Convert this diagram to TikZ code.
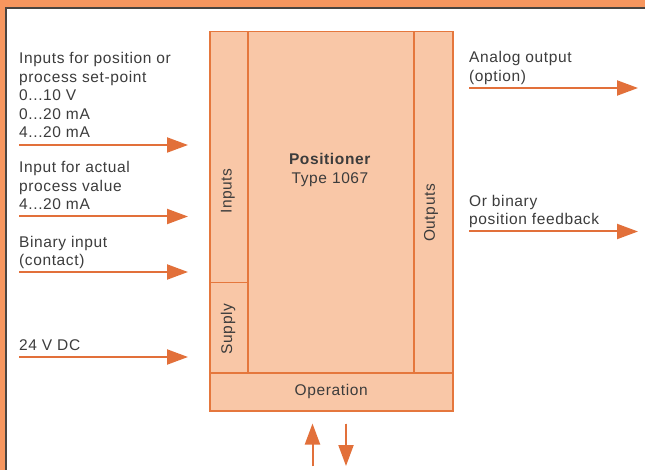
\documentclass[tikz,border=0pt]{standalone}
\usepackage{fontspec}
\setmainfont[LetterSpace=4]{Liberation Sans}
\usepackage{tikz}
\usetikzlibrary{arrows.meta,positioning}
\definecolor{posframe}{HTML}{F7965E}
\definecolor{posshadow}{HTML}{4A4440}
\definecolor{posarrow}{HTML}{E2703A}
\definecolor{posfill}{HTML}{F9C7A7}
\definecolor{posdraw}{HTML}{E5773D}
\definecolor{postext}{HTML}{3C3C3C}
\tikzset{
  part/.style={draw=posdraw,fill=posfill,line width=1.5pt,inner sep=0pt,anchor=north west,text=postext},
  lbl/.style={align=left,anchor=north west,inner sep=0pt,text=postext},
  ar/.style={-{Triangle[length=21pt,width=15pt]},draw=posarrow,fill=posarrow,line width=2pt},
}

\begin{document}
\begin{tikzpicture}[x=1pt,y=-1pt,font=\fontsize{15.5}{18.4}\selectfont]
  \useasboundingbox (0,0) rectangle (645,470);
  % frame
  \fill[posframe] (0,0) rectangle (645,470);
  \fill[posshadow] (5,7) rectangle (645,470);
  \fill[white] (7,9) rectangle (645,470);
  % positioner blocks
  \node[part,minimum width=166pt,minimum height=341pt] (core) at (247,31) {};
  \node[part,minimum width=38pt,minimum height=251pt] (inputs) at (209,31) {};
  \node[part,minimum width=38pt,minimum height=90pt] (supply) at (209,282) {};
  \node[part,minimum width=39pt,minimum height=341pt] (outputs) at (413,31) {};
  \node[part,minimum width=243pt,minimum height=38pt] (operation) at (209,372) {Operation};
  \node[text=postext,rotate=90] (inputsl) at (228,191) {Inputs};
  \node[text=postext,rotate=90] (supplyl) at (228,329) {Supply};
  \node[text=postext,rotate=90] (outputsl) at (431,213) {Outputs};
  \node[text=postext,align=center,anchor=north,inner sep=0pt] (title) at (330,153.5) {\textbf{Positioner}\\Type 1067};
  % inputs
  \node[lbl] (in1) at (19,52.5) {Inputs for position or\\process set-point\\0...10 V\\0...20 mA\\4...20 mA};
  \node[lbl] (in2) at (19,161.5) {Input for actual\\process value\\4...20 mA};
  \node[lbl] (in3) at (19,236) {Binary input\\(contact)};
  \node[lbl] (in4) at (19,339.5) {24 V DC};
  \foreach \i/\y in {1/145,2/216.5,3/272,4/357} {
    \coordinate (a\i) at (19,\y); \coordinate (b\i) at (188,\y);
    \draw[ar] (a\i) -- (b\i);
  }
  % outputs
  \node[lbl] (out1) at (469,51.5) {Analog output\\(option)};
  \node[lbl] (out2) at (469,195) {Or binary\\position feedback};
  \foreach \i/\y in {1/88,2/231.5} {
    \coordinate (c\i) at (469,\y); \coordinate (d\i) at (638,\y);
    \draw[ar] (c\i) -- (d\i);
  }
  % operation
  \coordinate (up0) at (312.5,466); \coordinate (up1) at (312.5,423.5);
  \coordinate (dn0) at (346,423.5); \coordinate (dn1) at (346,466);
  \draw[ar] (up0) -- (up1);
  \draw[ar] (dn0) -- (dn1);
\end{tikzpicture}
\end{document}
